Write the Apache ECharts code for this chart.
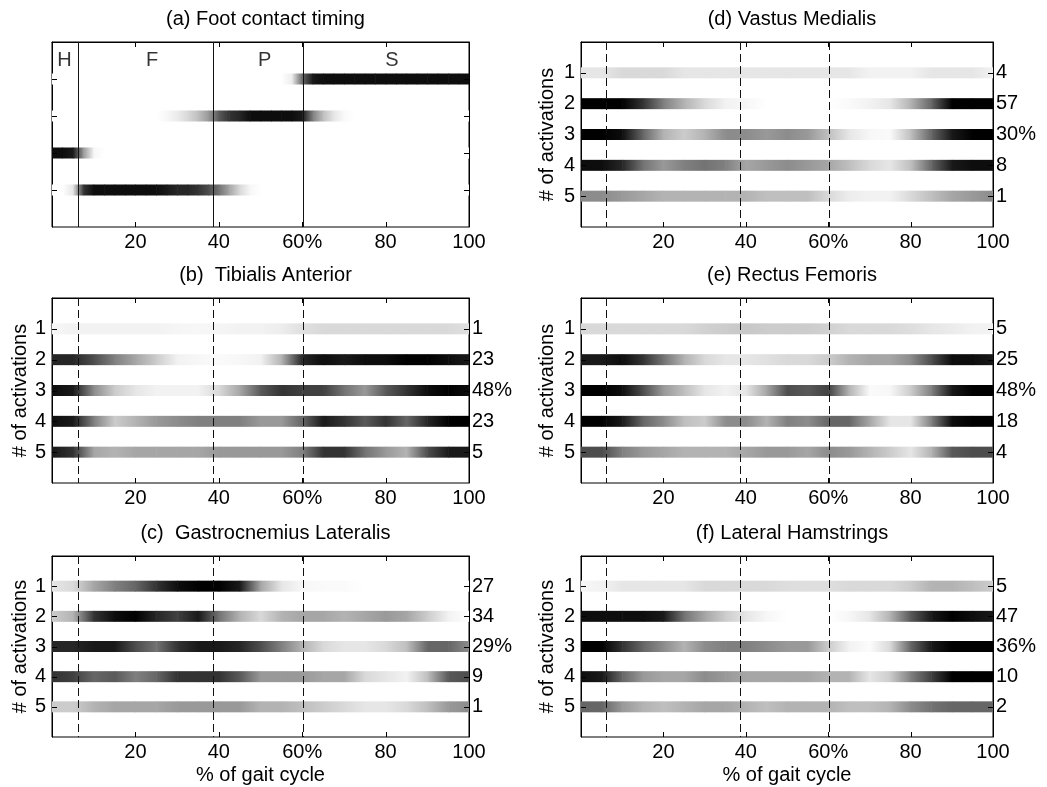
<!DOCTYPE html>
<html>
<head>
<meta charset="utf-8">
<script src="https://cdn.jsdelivr.net/npm/echarts@6/dist/echarts.min.js"></script>
<style>
html,body{margin:0;padding:0;background:#fff;}
#chart{width:1047px;height:787px;}
</style>
</head>
<body>
<div id="chart"></div>
<script>
// ---------------- DATA ----------------
// sample positions along the gait cycle (%)
const xSamples = [0,5,10,15,20,25,30,35,40,45,50,55,60,65,70,75,80,85,90,95,100];
// finer sample positions for the foot contact panel (%)
const footX = [0,2.5,5,7.5,10,12.5,15,17.5,20,22.5,25,27.5,30,32.5,35,37.5,40,42.5,45,47.5,50,
               52.5,55,57.5,60,62.5,65,67.5,70,72.5,75,77.5,80,82.5,85,87.5,90,92.5,95,97.5,100];
// gait phase boundaries (% of gait cycle) and phase letters
const phaseBounds = [6.2, 38.6, 60.3];
const phaseLabels = ['H', 'F', 'P', 'S'];
const phaseLabelX = [3, 24, 51, 81.5];
// x ticks
const xTickValues = [0, 20, 40, 60, 80, 100];
const xTickLabels = ['', '20', '40', '60%', '80', '100'];
const rowLabels = ['1', '2', '3', '4', '5'];

// intensity (0 = white, 10 = black)
// (a) Foot contact timing (at footX): rows top to bottom S, P, H, F
const footS = [0,0,0,0,0,0,0,0,0,0,0,0,0,0,0,0,0,0,0,0,0,0,0,0.7,6,9,9.5,9.5,9.5,9.5,9.5,9.5,9.5,9.5,9.5,9.5,9.5,9.5,9.5,9.5,9.5];
const footP = [0,0,0,0,0,0,0,0,0,0,0,0.3,0.8,1.5,2.5,4,6.5,8,8.5,9.5,9.5,9.5,9.5,9.5,9,5,2.5,1,0.2,0,0,0,0,0,0,0,0,0,0,0,0];
const footH = [9.5,9.5,9,4,0.3,0,0,0,0,0,0,0,0,0,0,0,0,0,0,0,0,0,0,0,0,0,0,0,0,0,0,0,0,0,0,0,0,0,0,0,0];
const footF = [0,0,1,8,9.5,9.5,9.5,9.5,9.5,9.5,9.5,9,8.5,8.5,8,7,5.5,3.5,1.5,0.3,0,0,0,0,0,0,0,0,0,0,0,0,0,0,0,0,0,0,0,0,0];

// (b) Tibialis Anterior, rows 1..5 (at xSamples)
const ta1 = [0.3,0.5,0.5,0.5,0.5,0.5,0.4,0.3,0.4,0.5,0.5,0.7,1.2,1.5,1.5,1.5,1.5,1.5,1.5,1.5,1.2];
const ta2 = [8.5,8.5,7,5,3.5,2,0.5,0.3,0.2,0.3,0.5,3,8.5,9.5,9,9.5,9.5,10,10,9.5,9];
const ta3 = [9.5,9,4.5,2,1,0.5,0.5,0.5,1.5,3.5,6.5,8,7.5,7.5,5.5,4,6.5,8,9.5,10,9.5];
const ta4 = [9.5,9,5,2,3,4,4.5,5,5,5,4,4,6,9,8,6.5,8,6,8.5,10,10];
const ta5 = [9,8,3.5,3,3.5,3.5,3.5,3.5,4,4,4,4,5,8,8,5.5,4,3,7,9,9];
const taPct = ['1', '23', '48%', '23', '5'];

// (c) Gastrocnemius Lateralis
const gl1 = [1,1.5,3.5,5,6,8,9.5,10,10,9,3.5,1,0.3,0.2,0.2,0,0,0,0,0,0];
const gl2 = [2,3,8,9.5,10,8.5,7.5,9,5.5,3,1.5,3,3.5,3.5,3,3.5,4,3.5,2,0.5,0];
const gl3 = [8.5,8.5,9,9,7,5.5,8,9,9,8.5,7,5,3,1.5,1,1,1.5,2.5,6,6,4.5];
const gl4 = [8,7.5,6,6.5,5,6,8,8,8,6.5,4,4,4,3.5,3.5,1.5,1,0.5,2.5,6.5,7];
const gl5 = [2,2,3,3.5,3.5,3.5,4,4,4,4,3,3,2.5,2,1.5,1,1,1.5,2.5,4,4.5];
const glPct = ['27', '34', '29%', '9', '1'];

// (d) Vastus Medialis
const vm1 = [1,1,1.5,1.5,1.5,1,1,1,1,1,1,1,1,1,0.5,0.5,0.5,1,1,1,0.5];
const vm2 = [10,10,10,8,5,3,1.5,0.5,0.3,0,0,0,0,0.2,0.5,1,3,6,10,10,10];
const vm3 = [10,10,9.5,6,3,2,3,4.5,4.5,4,4.5,4,2.5,1,0.3,0.2,2.5,6,9,10,10];
const vm4 = [9.5,9.5,8.5,5.5,4,5,5.5,5,3.5,4,4.5,4,3.5,2.5,1.5,1,2.5,6,9,9.5,9.5];
const vm5 = [4.5,4.5,4,3.5,3,3,3,3,3,2.5,2.5,2.5,1.5,0.7,0.5,0.5,1.5,2.5,3.5,4,4.5];
const vmPct = ['4', '57', '30%', '8', '1'];

// (e) Rectus Femoris
const rf1 = [1.5,1.5,1.5,1.5,1.5,1.5,1.8,2,2.2,2,2,2,1.8,1.5,1.5,1.5,1.3,1,0.8,0.5,0.5];
const rf2 = [9,9,9.5,8,5.5,3,1.5,1,1,1.2,1.5,1.5,2,3,3.5,3.5,4.5,7,9.5,9.5,9];
const rf3 = [10,10,9.5,7,4,2.5,1,0.5,1,3.5,7,6.5,7.5,3,0.2,0.3,2,5,9,10,10];
const rf4 = [10,10,9,6,4.5,2.5,2,4.5,4.5,3,5,4.5,6,6,3.5,1,1,5,9.5,10,10];
const rf5 = [7,7,5,4,3.5,3,3,3,3.5,4,4,3.5,4.5,4,3,2,1,3,6.5,7,7];
const rfPct = ['5', '25', '48%', '18', '4'];

// (f) Lateral Hamstrings
const lh1 = [0.3,0.5,1,1,1,1,1.5,1.5,1.5,1.5,1.3,1.3,1.3,1.5,1.5,1.5,2,3,3,2.5,2];
const lh2 = [9.5,9.5,9.5,9.5,9,5.5,3.5,2,1,0.3,0,0,0,0.3,1,3,6.5,9,10,9.5,9];
const lh3 = [10,10,8,6,4.5,3,4.5,5,5,4.5,4,4,2,0.5,0.1,1.5,6,9,10,10,10];
const lh4 = [9.5,9,6,4,3.5,3.5,4.5,4,3.5,3.5,3.5,3.5,3,3,1,2,5,7.5,10,10,10];
const lh5 = [6,6,4,3,2.5,3,3.5,3.5,3,2.5,3,3,3,2.5,2.5,3,4.5,5.5,6,6,6];
const lhPct = ['5', '47', '36%', '10', '2'];

const panelTitles = ['(a) Foot contact timing', '(b)  Tibialis Anterior', '(c)  Gastrocnemius Lateralis',
                     '(d) Vastus Medialis', '(e) Rectus Femoris', '(f) Lateral Hamstrings'];

// ---------------- LAYOUT ----------------
const FONT = 'Liberation Sans, Arial, Helvetica, sans-serif';
const FS = 20;
const TICK_LEN = 5;
const BAND_H = 11;
const layout = [
  {left: 52,  top: 42,  width: 417, height: 185},
  {left: 52,  top: 298, width: 417, height: 185},
  {left: 52,  top: 556, width: 417, height: 181},
  {left: 581, top: 42,  width: 412, height: 185},
  {left: 581, top: 298, width: 412, height: 185},
  {left: 581, top: 556, width: 412, height: 181}
];
const panels = [
  {rows: [footS, footP, footH, footF], xs: footX, pct: null, yMax: 5, foot: true},
  {rows: [ta1, ta2, ta3, ta4, ta5], xs: xSamples, pct: taPct, yMax: 6},
  {rows: [gl1, gl2, gl3, gl4, gl5], xs: xSamples, pct: glPct, yMax: 6, xName: true},
  {rows: [vm1, vm2, vm3, vm4, vm5], xs: xSamples, pct: vmPct, yMax: 6},
  {rows: [rf1, rf2, rf3, rf4, rf5], xs: xSamples, pct: rfPct, yMax: 6},
  {rows: [lh1, lh2, lh3, lh4, lh5], xs: xSamples, pct: lhPct, yMax: 6, xName: true}
];

function gray(v) {
  const g = Math.round(255 * (1 - Math.max(0, Math.min(10, v)) / 10));
  return 'rgb(' + g + ',' + g + ',' + g + ')';
}

function renderBand(params, api) {
  const x0 = api.value(0), x1 = api.value(1), row = api.value(2);
  const p0 = api.coord([x0, row]);
  const p1 = api.coord([x1, row]);
  return {
    type: 'rect',
    shape: {x: p0[0], y: p0[1] - BAND_H / 2, width: p1[0] - p0[0] + 0.6, height: BAND_H},
    style: {fill: new echarts.graphic.LinearGradient(0, 0, 1, 0,
      [{offset: 0, color: gray(api.value(3))}, {offset: 1, color: gray(api.value(4))}])},
    silent: true
  };
}

// inward-pointing ticks on all four sides of a panel
function renderTick(params, api) {
  const cs = params.coordSys;
  const kind = api.value(0), v = api.value(1);
  const st = {stroke: '#000', lineWidth: 1};
  if (kind === 0) {
    const px = Math.round(api.coord([v, 1])[0]) + 0.5;
    return {type: 'group', children: [
      {type: 'line', shape: {x1: px, y1: cs.y, x2: px, y2: cs.y + TICK_LEN}, style: st},
      {type: 'line', shape: {x1: px, y1: cs.y + cs.height, x2: px, y2: cs.y + cs.height - TICK_LEN}, style: st}
    ]};
  }
  const py = Math.round(api.coord([50, v])[1]) + 0.5;
  return {type: 'group', children: [
    {type: 'line', shape: {x1: cs.x, y1: py, x2: cs.x + TICK_LEN, y2: py}, style: st},
    {type: 'line', shape: {x1: cs.x + cs.width, y1: py, x2: cs.x + cs.width - TICK_LEN, y2: py}, style: st}
  ]};
}

function axisBase() {
  return {
    axisLine: {show: true, lineStyle: {color: '#000', width: 1}},
    axisTick: {show: false},
    splitLine: {show: false}
  };
}

const grid = [], xAxis = [], yAxis = [], series = [], title = [];

panels.forEach((p, i) => {
  const L = layout[i];
  const nRows = p.rows.length;
  grid.push({left: L.left, top: L.top, width: L.width, height: L.height, show: true,
             borderColor: '#000', borderWidth: 1, backgroundColor: '#fff'});
  title.push({text: panelTitles[i], left: L.left + L.width / 2, top: L.top - 38, textAlign: 'center',
              textStyle: {fontSize: FS, fontWeight: 'normal', color: '#000', fontFamily: FONT}});
  xAxis.push(Object.assign(axisBase(), {
    type: 'value', gridIndex: i, position: 'bottom', min: 0, max: 100, interval: 20,
    axisLabel: {show: true, color: '#000', fontSize: FS, fontFamily: FONT, margin: 5,
      formatter: v => xTickLabels[xTickValues.indexOf(v)] || ''},
    name: p.xName ? '% of gait cycle' : '', nameLocation: 'middle', nameGap: 28,
    nameTextStyle: {fontSize: FS, color: '#000', fontFamily: FONT}
  }));
  yAxis.push(Object.assign(axisBase(), {
    type: 'value', gridIndex: i, position: 'left', min: 0, max: p.yMax, interval: 1, inverse: true,
    axisLabel: {show: !p.foot, color: '#000', fontSize: FS, fontFamily: FONT, margin: 6,
      formatter: v => (v >= 1 && v <= nRows) ? rowLabels[v - 1] : ''},
    name: p.foot ? '' : '# of activations', nameLocation: 'middle', nameRotate: 90,
    nameGap: i < 3 ? 17 : 24,
    nameTextStyle: {fontSize: FS, color: '#000', fontFamily: FONT}
  }));
  yAxis.push(Object.assign(axisBase(), {
    type: 'value', gridIndex: i, position: 'right', min: 0, max: p.yMax, interval: 1, inverse: true,
    axisLabel: {show: !!p.pct, color: '#000', fontSize: FS, fontFamily: FONT, margin: 3,
      formatter: v => (p.pct && v >= 1 && v <= nRows) ? p.pct[v - 1] : ''}
  }));

  const data = [];
  const xs = p.xs;
  p.rows.forEach((vals, r) => {
    for (let k = 0; k < xs.length - 1; k++) {
      data.push([xs[k], xs[k + 1], r + 1, vals[k], vals[k + 1]]);
    }
  });
  series.push({
    type: 'custom', xAxisIndex: i, yAxisIndex: 2 * i, renderItem: renderBand, data: data,
    clip: true, silent: true, animation: false, z: 2,
    markLine: {
      silent: true, symbol: ['none', 'none'], label: {show: false}, animation: false,
      lineStyle: {color: '#111', width: 1, type: p.foot ? 'solid' : [8, 4]},
      data: phaseBounds.map(b => ({xAxis: b}))
    }
  });
  // tick marks
  const tickData = [];
  xTickValues.slice(1, -1).forEach(v => tickData.push([0, v]));
  for (let r = 1; r <= nRows; r++) tickData.push([1, r]);
  series.push({
    type: 'custom', xAxisIndex: i, yAxisIndex: 2 * i, renderItem: renderTick, data: tickData,
    encode: {x: -1, y: -1}, clip: false, silent: true, animation: false, z: 5
  });
  if (p.foot) {
    series.push({
      type: 'scatter', xAxisIndex: 0, yAxisIndex: 0, symbolSize: 1, silent: true, animation: false,
      itemStyle: {color: 'rgba(0,0,0,0)'},
      label: {show: true, position: 'inside', formatter: q => q.data[2],
              fontSize: FS, color: '#000', fontFamily: FONT},
      data: phaseLabels.map((l, k) => [phaseLabelX[k], 0.5, l])
    });
  }
});

const chart = echarts.init(document.getElementById('chart'), null, {renderer: 'canvas'});
chart.setOption({
  animation: false,
  backgroundColor: '#fff',
  title: title, grid: grid, xAxis: xAxis, yAxis: yAxis, series: series
});
</script>
</body>
</html>
